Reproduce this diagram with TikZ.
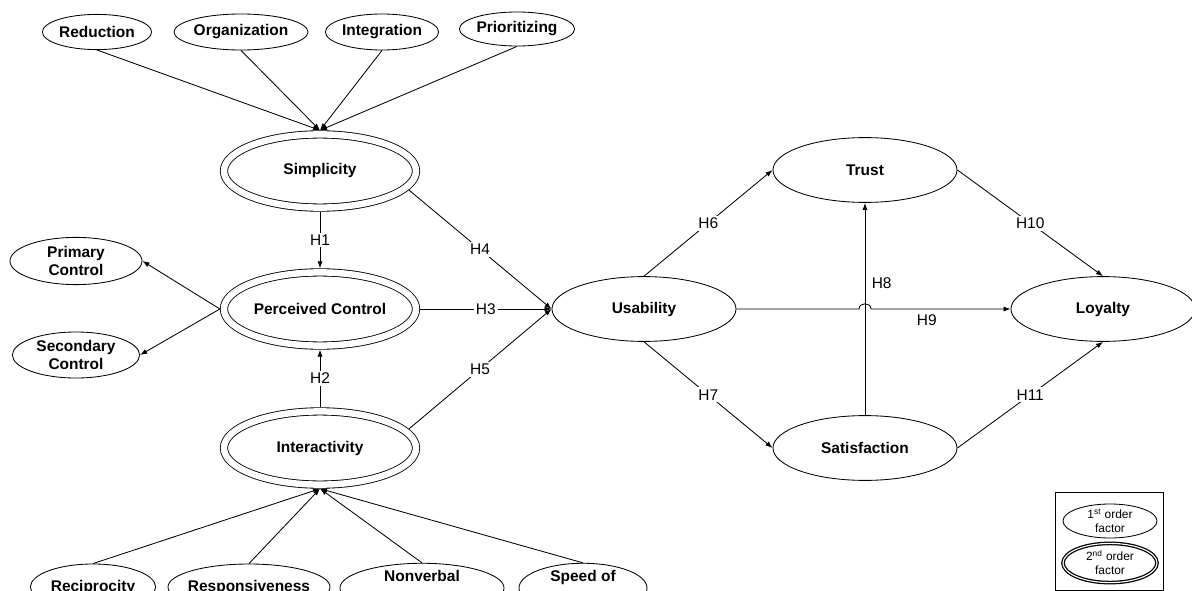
\documentclass[tikz,border=0pt]{standalone}
\usepackage{fontspec}
\setmainfont{Liberation Sans}
\usetikzlibrary{shapes.geometric,arrows.meta}

\begin{document}
\begin{tikzpicture}[x=0.025cm,y=-0.025cm,line width=0.6pt,
  >={Latex[length=5pt,width=3.6pt]},
  fac/.style={ellipse,draw,inner xsep=-12pt,inner ysep=0pt,align=center,
    font=\fontsize{11}{13}\selectfont\bfseries},
  big/.style={fac,minimum width=4.6cm,minimum height=1.62cm},
  dbl/.style={fac,double,double distance=4.6pt,outer sep=2.9pt,
    minimum width=4.8cm,minimum height=1.83cm},
  hyp/.style={fill=white,inner sep=1.5pt,font=\fontsize{11}{13}\selectfont}]
\useasboundingbox (0,0) rectangle (1192,591);
\clip (0,0) rectangle (1192,591);

\node[dbl] (simp) at (320,171) {Simplicity};
\node[dbl] (pc) at (320,309) {Perceived Control};
\node[dbl] (inter) at (320,448) {Interactivity};

\node[fac,minimum width=2.73cm,minimum height=0.88cm] (red) at (97,32) {Reduction};
\node[fac,minimum width=3.35cm,minimum height=0.9cm] (org) at (241,32) {Organization};
\node[fac,minimum width=2.83cm,minimum height=0.9cm] (integ) at (382,32) {Integration};
\node[fac,minimum width=2.88cm,minimum height=0.85cm] (prio) at (517,29) {Prioritizing};

\node[fac,minimum width=3.3cm,minimum height=1.18cm] (prim) at (76,261) {Primary\\Control};
\node[fac,minimum width=3.18cm,minimum height=1.15cm] (sec) at (76,355) {Secondary\\Control};

\node[fac,minimum width=3.13cm,minimum height=1.15cm] (recip) at (93,587) {Reciprocity};
\node[fac,minimum width=4.05cm,minimum height=1.15cm] (resp) at (249,587) {Responsiveness};
\node[fac,minimum width=4.1cm,minimum height=1.15cm] (nonv) at (422,588) {Nonverbal\\\strut};
\node[fac,minimum width=3.2cm,minimum height=1.15cm] (speed) at (583,588) {Speed of\\\strut};

\node[big] (usab) at (644,309) {Usability};
\node[big] (trust) at (865,170) {Trust};
\node[big] (sat) at (865,448) {Satisfaction};
\node[big] (loyal) at (1103,309) {Loyalty};

\draw[->] (red.south) -- (simp.north);
\draw[->] (org.south) -- (simp.north);
\draw[->] (integ.south) -- (simp.north);
\draw[->] (prio.south) -- (simp.north);

\draw[->] (recip.north) -- (inter.south);
\draw[->] (resp.north) -- (inter.south);
\draw[->] (nonv.north) -- (inter.south);
\draw[->] (speed.north) -- (inter.south);

\draw[->] (pc.west) -- (prim.east);
\draw[->] (pc.west) -- (sec.east);

\draw[->] (simp) -- node[hyp] {H1} (pc);
\draw[->] (inter) -- node[hyp] {H2} (pc);
\draw[->] (pc.east) -- node[hyp] {H3} (usab.west);
\draw[->] (simp.-12) -- node[hyp] {H4} (usab.west);
\draw[->] (inter.12) -- node[hyp] {H5} (usab.west);

\draw[->] (usab.north) -- node[hyp] {H6} (trust.west);
\draw[->] (usab.south) -- node[hyp] {H7} (sat.west);
\draw[->] (sat) -- node[hyp,pos=0.62,right=3pt] {H8} (trust);
\coordinate (ca) at (859,309);
\coordinate (cb) at (871,309);
\draw[->] (usab.east) -- (ca) .. controls (859,302) and (871,302) .. (cb)
  -- node[hyp,pos=0.4,below=2pt] {H9} (loyal.west);
\draw[->] (trust.east) -- node[hyp] {H10} (loyal.north);
\draw[->] (sat.east) -- node[hyp] {H11} (loyal.south);

\node[draw,minimum width=2.7cm,minimum height=2.45cm] (key) at (1109,541) {};
\node[ellipse,draw,inner sep=0pt,minimum width=2.35cm,minimum height=0.85cm,align=center,
  font=\fontsize{8.5}{10}\selectfont] (first) at (1110,521) {1\textsuperscript{st} order\\factor};
\node[ellipse,draw,double,line width=0.9pt,double distance=0.8pt,inner sep=0pt,
  minimum width=2.35cm,minimum height=0.98cm,align=center,
  font=\fontsize{8.5}{10}\selectfont] (second) at (1110,563) {2\textsuperscript{nd} order\\factor};
\end{tikzpicture}
\end{document}
